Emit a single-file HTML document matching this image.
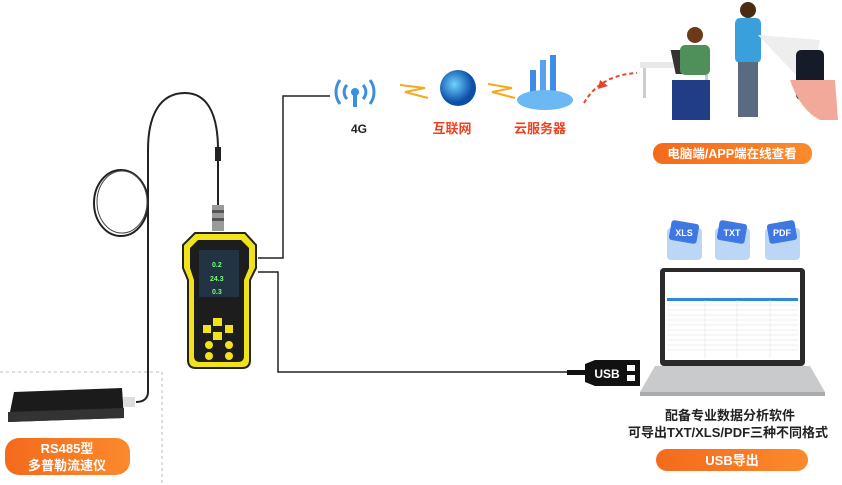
<!DOCTYPE html>
<html><head><meta charset="utf-8"><style>
html,body{margin:0;padding:0;background:#fff;width:842px;height:485px;overflow:hidden}
svg{display:block}
text{font-family:"Liberation Sans","Noto Sans CJK SC",sans-serif;font-weight:bold}
</style></head><body>
<svg width="842" height="485" viewBox="0 0 842 485">
<defs>
<linearGradient id="or" x1="0" x2="1"><stop offset="0" stop-color="#f46a1c"/><stop offset="1" stop-color="#fb8a2c"/></linearGradient>
<radialGradient id="gl" cx="0.4" cy="0.4"><stop offset="0" stop-color="#6fd2ff"/><stop offset="1" stop-color="#0c4fa8"/></radialGradient>
</defs>
<!-- cable -->
<path d="M218 210 L218 150 C218 110 205 93 185 93 C160 93 148 115 148 150 L148 392 C148 398 144 402 136 402" fill="none" stroke="#222" stroke-width="2"/>
<ellipse cx="121" cy="203" rx="27" ry="33" fill="none" stroke="#222" stroke-width="2"/>
<ellipse cx="122" cy="202" rx="25" ry="31" fill="none" stroke="#444" stroke-width="1"/>
<rect x="215" y="147" width="6" height="14" fill="#222"/>
<rect x="212" y="205" width="12" height="26" fill="#9a9a9a"/>
<rect x="212" y="210" width="12" height="3" fill="#555"/><rect x="212" y="218" width="12" height="3" fill="#555"/>
<!-- connector lines -->
<path d="M258 258 H283 V96 H330" fill="none" stroke="#222" stroke-width="1.5"/>
<path d="M258 272 H278 V372 H570" fill="none" stroke="#222" stroke-width="1.5"/>
<!-- dashed box -->
<path d="M0 372 H162 V485" fill="none" stroke="#bbb" stroke-dasharray="3,3"/>
<!-- device -->
<path d="M195 233 L245 233 L256 245 L256 268 L250 280 L250 360 Q250 368 242 368 L196 368 Q188 368 188 360 L188 280 L183 268 L183 245 Z" fill="#f2e21a" stroke="#222" stroke-width="2"/>
<path d="M198 240 L241 240 L249 248 L249 268 L244 280 L244 356 Q244 362 238 362 L200 362 Q194 362 194 356 L194 280 L190 268 L190 248 Z" fill="#1d1d1d"/>
<rect x="199" y="250" width="40" height="47" fill="#234"/>
<text x="212" y="267" font-size="7" fill="#7f7" font-weight="normal">0.2</text>
<text x="210" y="281" font-size="7" fill="#7f7" font-weight="normal">24.3</text>
<text x="212" y="294" font-size="7" fill="#7f7" font-weight="normal">0.3</text>
<rect x="213" y="318" width="9" height="8" fill="#f2e21a"/><rect x="203" y="325" width="8" height="8" fill="#f2e21a"/><rect x="225" y="325" width="8" height="8" fill="#f2e21a"/><rect x="213" y="332" width="9" height="8" fill="#f2e21a"/>
<circle cx="209" cy="345" r="4" fill="#f2e21a"/><circle cx="229" cy="345" r="4" fill="#f2e21a"/><circle cx="209" cy="356" r="4" fill="#f2e21a"/><circle cx="229" cy="356" r="4" fill="#f2e21a"/>
<!-- sensor -->
<path d="M14 392 L122 388 L124 418 L8 422 Z" fill="#1b1b1b"/>
<path d="M8 412 L124 408 L124 418 L8 422 Z" fill="#333"/>
<rect x="123" y="397" width="12" height="10" fill="#ddd"/>
<rect x="5" y="438" width="125" height="37" rx="14" fill="url(#or)"/>
<text x="67" y="453" font-size="13" fill="#fff" text-anchor="middle">RS485型</text>
<text x="67" y="470" font-size="13" fill="#fff" text-anchor="middle">多普勒流速仪</text>
<!-- 4G -->
<path d="M340 80 A20 20 0 0 0 340 104 M370 80 A20 20 0 0 1 370 104" fill="none" stroke="#3a8fe0" stroke-width="3"/>
<path d="M347 85 A10 10 0 0 0 347 99 M363 85 A10 10 0 0 1 363 99" fill="none" stroke="#3a8fe0" stroke-width="3"/>
<circle cx="355" cy="92" r="4" fill="#3a8fe0"/><rect x="353" y="95" width="4" height="12" fill="#3a8fe0"/>
<text x="359" y="133" font-size="12" fill="#222" text-anchor="middle">4G</text>
<!-- sparks -->
<path d="M400 85 L425 88 L405 92 L428 98" fill="none" stroke="#f7a81b" stroke-width="2"/>
<path d="M488 84 L512 88 L492 92 L515 98" fill="none" stroke="#f7a81b" stroke-width="2"/>
<circle cx="458" cy="88" r="18" fill="url(#gl)"/>
<text x="452" y="133" font-size="13" fill="#f04020" text-anchor="middle">互联网</text>
<!-- cloud server -->
<rect x="530" y="70" width="6" height="30" fill="#3e8be8"/><rect x="540" y="60" width="6" height="40" fill="#5aa2f0"/><rect x="550" y="55" width="6" height="45" fill="#3e8be8"/>
<ellipse cx="545" cy="100" rx="28" ry="10" fill="#6cb8f2"/>
<text x="540" y="133" font-size="13" fill="#f04020" text-anchor="middle">云服务器</text>
<path d="M584 103 Q600 75 637 73" fill="none" stroke="#e8442a" stroke-width="2" stroke-dasharray="4,3"/>
<path d="M600 80 L608 86 L598 89 Z" fill="#e8442a"/>
<!-- people -->
<rect x="640" y="62" width="70" height="6" fill="#e8e8ea"/><rect x="643" y="68" width="3" height="30" fill="#ccc"/><rect x="705" y="68" width="3" height="30" fill="#ccc"/>
<rect x="660" y="50" width="30" height="24" fill="#333" transform="skewX(12)"/>
<circle cx="695" cy="35" r="8" fill="#6a3a1a"/><rect x="680" y="45" width="30" height="30" rx="5" fill="#4f8f5a"/><rect x="672" y="80" width="38" height="40" fill="#203d86"/>
<circle cx="748" cy="10" r="8" fill="#4a2a15"/><rect x="735" y="18" width="26" height="45" rx="5" fill="#3aa0db"/><rect x="738" y="62" width="20" height="55" fill="#5a6a80"/>
<path d="M758 35 L820 40 L810 90 Z" fill="#eee"/>
<rect x="796" y="50" width="28" height="50" rx="5" fill="#161b2a"/>
<path d="M790 80 Q800 110 820 120 L838 120 L835 80 Z" fill="#f2a99a"/>
<rect x="653" y="143" width="159" height="21" rx="10" fill="url(#or)"/>
<text x="732" y="158" font-size="12.5" fill="#fff" text-anchor="middle">电脑端/APP端在线查看</text>
<!-- file icons -->
<g font-size="9" fill="#fff" text-anchor="middle">
<rect x="667" y="228" width="35" height="32" rx="4" fill="#bcd6f6"/><rect x="670" y="222" width="28" height="20" rx="3" fill="#3e78e0" transform="rotate(10 684 232)"/><text x="684" y="236">XLS</text>
<rect x="715" y="228" width="35" height="32" rx="4" fill="#bcd6f6"/><rect x="718" y="222" width="28" height="20" rx="3" fill="#3e78e0" transform="rotate(10 732 232)"/><text x="732" y="236">TXT</text>
<rect x="765" y="228" width="35" height="32" rx="4" fill="#bcd6f6"/><rect x="768" y="222" width="28" height="20" rx="3" fill="#3e78e0" transform="rotate(-10 782 232)"/><text x="782" y="236">PDF</text>
</g>
<!-- laptop -->
<rect x="660" y="268" width="145" height="98" rx="4" fill="#2a2a2a"/>
<rect x="665" y="272" width="135" height="88" fill="#fff"/>
<rect x="667" y="298" width="131" height="3" fill="#2a88e0"/>
<g stroke="#ddd" stroke-width="0.5"><path d="M667 305H798M667 310H798M667 315H798M667 320H798M667 325H798M667 330H798M667 335H798M667 340H798M667 345H798M667 350H798M705 300V358M737 300V358M770 300V358"/></g>
<path d="M655 366 L810 366 L825 392 L640 392 Z" fill="#c9cacc"/>
<rect x="640" y="392" width="185" height="4" fill="#a9aaac"/>
<!-- USB -->
<rect x="567" y="370" width="20" height="5" fill="#111"/>
<path d="M585 364 L595 360 L630 360 L630 386 L595 386 L585 382 Z" fill="#111"/>
<text x="607" y="378" font-size="12" fill="#fff" text-anchor="middle">USB</text>
<rect x="622" y="360" width="18" height="26" fill="#111"/><rect x="627" y="365" width="8" height="6" fill="#fff"/><rect x="627" y="375" width="8" height="6" fill="#fff"/>
<text x="730" y="420" font-size="13" fill="#222" text-anchor="middle">配备专业数据分析软件</text>
<text x="728" y="437" font-size="13" fill="#222" text-anchor="middle">可导出TXT/XLS/PDF三种不同格式</text>
<rect x="656" y="449" width="152" height="22" rx="11" fill="url(#or)"/>
<text x="732" y="465" font-size="13" fill="#fff" text-anchor="middle">USB导出</text>
</svg>
</body></html>
